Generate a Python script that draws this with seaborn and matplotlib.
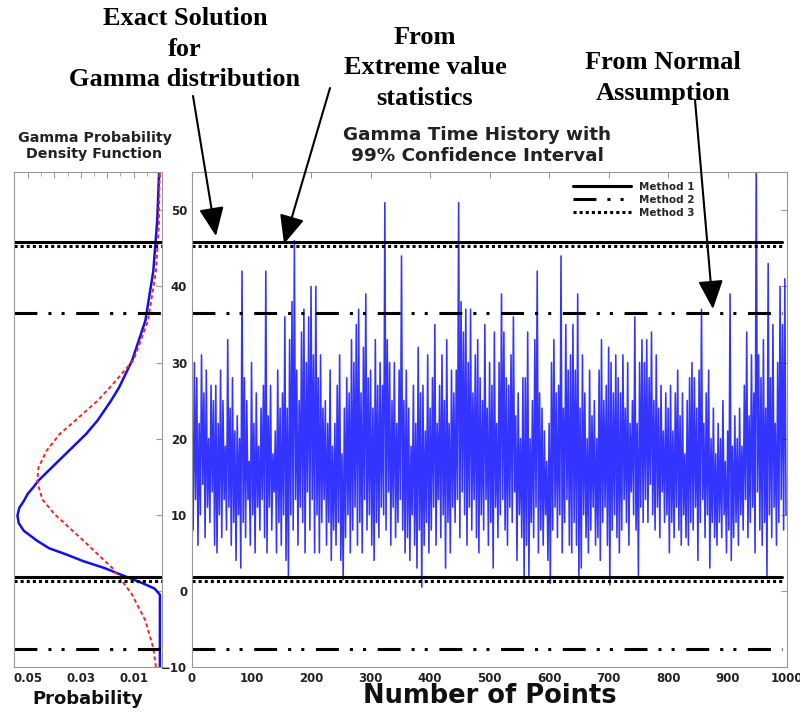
import numpy as np
import pandas as pd
import matplotlib
matplotlib.use('Agg')
import matplotlib.pyplot as plt
import seaborn as sns

# time history: one peak then one trough,
# 2 points apart (peak at n = 4i, trough at n = 4i + 2)
step = 2
peaks = [
    24, 30, 28, 22, 31, 26, 29, 20, 27, 25,
    27, 22, 29, 25, 19, 33, 24, 28, 21, 23,
    20, 42, 28, 25, 17, 30, 22, 26, 19, 24,
    27, 42, 23, 27, 18, 21, 29, 24, 26, 36,
    24, 33, 38, 46, 29, 25, 34, 37, 30, 36,
    40, 31, 40, 28, 31, 24, 25, 22, 29, 19,
    22, 27, 31, 18, 24, 28, 26, 33, 30, 35,
    37, 26, 32, 39, 28, 29, 24, 33, 27, 30,
    27, 51, 33, 30, 25, 30, 22, 29, 44, 25,
    29, 24, 19, 27, 22, 32, 26, 27, 21, 31,
    24, 28, 35, 22, 27, 31, 25, 33, 22, 29,
    26, 29, 51, 38, 34, 37, 30, 37, 26, 31,
    33, 28, 25, 35, 24, 30, 27, 34, 22, 30,
    39, 34, 28, 27, 31, 36, 23, 26, 20, 28,
    28, 34, 20, 25, 33, 42, 26, 24, 21, 17,
    22, 30, 33, 26, 27, 44, 24, 35, 29, 31,
    35, 29, 39, 24, 31, 26, 20, 29, 23, 25,
    20, 29, 33, 25, 27, 32, 30, 26, 31, 28,
    26, 31, 24, 30, 22, 25, 36, 22, 30, 33,
    30, 33, 28, 34, 25, 31, 24, 27, 21, 26,
    24, 27, 21, 26, 29, 23, 26, 18, 25, 28,
    30, 28, 24, 29, 37, 22, 26, 29, 20, 24,
    18, 22, 20, 25, 17, 21, 39, 19, 23, 20,
    24, 19, 27, 34, 23, 31, 26, 58, 31, 28,
    33, 24, 43, 28, 35, 22, 30, 40, 35, 41,
]
troughs = [
    8, 12, 6, 10, 14, 7, 11, 9, 13, 6,
    5, 10, 7, 12, 8, 11, 6, 9, 4, 10,
    3, 9, 7, 12, 6, 10, 5, 11, 8, 12,
    7, 5, 11, 8, 13, 5, 9, 6, 10, 4,
    2, 10, 8, 12, 6, 11, 9, 5, 13, 8,
    12, 5, 10, 5, 9, 12, 6, 9, 4, 8,
    6, 9, 4, 1.5, 7, 10, 5, 8, 11, 6,
    9, 5, 12, 8, 10, 6, 4, 9, 7, 11,
    10, 8, 13, 6, 11, 7, 9, 12, 8, 5,
    7, 4, 10, 6, 3, 8, 0.5, 6, 9, 5,
    8, 11, 6, 12, 7, 10, 3, 9, 5, 11,
    9, 12, 7, 13, 10, 6, 11, 8, 12, 7,
    5, 10, 8, 12, 6, 9, 3, 11, 7, 10,
    12, 8, 6, 11, 9, 13, 4, 10, 7, 1.5,
    6, 2, 9, 7, 11, 5, 8, 6, 10, 4,
    1, 8, 11, 7, 10, 5, 9, 12, 6, 5,
    9, 6, 1.5, 3, 10, 7, 5, 8, 11, 6,
    7, 4, 9, 11, 6, 0.8, 8, 10, 7, 5,
    8, 12, 9, 6, 13, 10, 8, 2, 11, 9,
    12, 9, 14, 10, 8, 11, 7, 13, 9, 10,
    5, 9, 7, 11, 8, 6, 10, 7, 6, 9,
    8, 11, 4, 9, 12, 7, 10, 3, 9, 7,
    6, 9, 7, 10, 5, 8, 4, 7, 9, 6,
    10, 8, 12, 7, 9, 11, 5, 13, 8, 6,
    9, 2, 10, 7, 11, 6, 9, 12, 8, 10,
]

# gamma pdf (blue)
gamma_y = [-10, -0.5, 0.3, 1.0, 1.7, 2.3, 3.0, 3.9, 4.8, 5.6, 6.6, 7.9, 8.9, 9.9,
           10.9, 11.8, 12.8, 13.6, 14.5, 16.2, 18.4, 20.6, 22.4, 25, 26.7, 30.3,
           35.5, 42, 48.7, 55]
gamma_p = [0, 0, 0.002, 0.0065, 0.0116, 0.016, 0.021, 0.029, 0.0356, 0.042, 0.0466,
           0.0516, 0.0535, 0.054, 0.0533, 0.0516, 0.050, 0.048, 0.046, 0.041, 0.0345,
           0.028, 0.0236, 0.0185, 0.0155, 0.0105, 0.0055, 0.0025, 0.001, 0.0003]

# normal pdf (red)
normal_y = [-10, -7.5, -3.9, -0.4, 3.0, 6.6, 10.1, 12, 13.7, 14.5, 16.2, 18.4,
            20.6, 22.4, 25, 26.7, 30.3, 35.5, 42, 48, 55]
normal_p = [0.0015, 0.0025, 0.0055, 0.0107, 0.018, 0.029, 0.040, 0.0445, 0.046,
            0.0465, 0.046, 0.043, 0.038, 0.032, 0.0236, 0.019, 0.010, 0.0045,
            0.0015, 0.0004, 0.0001]

# 99% interval bounds (lower, upper)
methods = ['Method 1', 'Method 2', 'Method 3']
lower = [1.8, -7.6, 1.3]
upper = [45.8, 36.5, 45.3]
styles = ['-', (0, (7.5, 3.6, 1, 3.3, 1, 3.8)), (0, (1, 1))]

sns.set_style('white')
plt.rcParams['font.family'] = ['DejaVu Sans']

fig = plt.figure(figsize=(8, 7.13), dpi=100)
ax_pdf = fig.add_axes([0.0175, 0.0645, 0.185, 0.694])
ax = fig.add_axes([0.24, 0.0645, 0.744, 0.694])

history = [v for pair in zip(peaks, troughs) for v in pair]
ts = pd.DataFrame({'n': np.arange(len(history)) * step, 'v': history})
sns.lineplot(data=ts, x='n', y='v', ax=ax, color='#1010ff', lw=1.15, alpha=0.85)

sns.lineplot(x=gamma_p, y=gamma_y, orient='y', sort=False, ax=ax_pdf,
             color='#1010ee', lw=1.8)
sns.lineplot(x=normal_p, y=normal_y, orient='y', sort=False, ax=ax_pdf,
             color='#ff2020', lw=1.4, linestyle=(0, (2, 1.5)))

for m, lo, hi, ls in zip(methods, lower, upper, styles):
    for a in (ax, ax_pdf):
        xmax = 0.992 if a is ax else 1
        a.axhline(hi, xmax=xmax, color='black', lw=2.2, ls=ls, label=m if a is ax else None)
        a.axhline(lo, xmax=xmax, color='black', lw=2.2, ls=ls)

for a in (ax, ax_pdf):
    a.set_ylim(-10, 55)
    for s in a.spines.values():
        s.set_color('#999999')
    a.tick_params(direction='in', top=True, right=True, length=4, color='#999999',
                  labelsize=8.5, labelcolor='#222222', width=0.8)
    a.set_xlabel('')
    a.set_ylabel('')

ax.set_xlim(0, 1000)
ax.set_xticks(range(0, 1001, 100))
ax.set_yticks(range(-10, 51, 10))
for lab in ax.get_xticklabels() + ax.get_yticklabels():
    lab.set_fontweight('bold')
ax.set_xlabel('Number of Points', fontsize=18.5, fontweight='bold', labelpad=-1,
              color='#111111')
ax.set_title('Gamma Time History with\n99% Confidence Interval', fontsize=13.2,
             fontweight='bold', color='#222222', pad=8, x=0.479)
leg = ax.legend(loc='upper right', bbox_to_anchor=(0.86, 1.0), frameon=False,
                handlelength=5.5, fontsize=7.5, labelspacing=0.3)
for t in leg.get_texts():
    t.set_fontweight('bold')

ax_pdf.set_xlim(0.0553, -0.0008)
ax_pdf.set_xticks([0.05, 0.04, 0.03, 0.02, 0.01, 0.0])
ax_pdf.set_xticklabels(['0.05', '', '0.03', '', '0.01', ''], fontweight='bold')
ax_pdf.set_xticks(np.arange(0, 0.055, 0.005), minor=True)
ax_pdf.tick_params(which='minor', direction='in', top=True, length=3, color='#999999')
ax_pdf.set_yticks(range(-10, 51, 10))
ax_pdf.set_yticklabels([])
ax_pdf.set_xlabel('Probability', fontsize=13, fontweight='bold', labelpad=4,
                  color='#111111')
ax_pdf.set_title('Gamma Probability\nDensity Function', fontsize=10.3,
                 fontweight='bold', color='#222222', pad=10, x=0.544)

serif = dict(family='Liberation Serif', fontweight='bold', fontsize=19,
             ha='center', va='center', linespacing=1.4, color='black')
fig.text(185 / 800, 1 - 49 / 713, 'Exact Solution\nfor\nGamma distribution', **serif)
fig.text(425 / 800, 1 - 68 / 713, 'From\nExtreme value\nstatistics', **serif)
fig.text(663 / 800, 1 - 78 / 713, 'From Normal\nAssumption', **serif)

arrow = dict(arrowstyle='-|>,head_length=0.8,head_width=0.35', color='black',
             lw=1.5, mutation_scale=22, shrinkA=0, shrinkB=0)
ax.annotate('', xy=(216, 713 - 236), xytext=(193, 713 - 96),
            xycoords='figure pixels', textcoords='figure pixels', arrowprops=arrow)
ax.annotate('', xy=(284, 713 - 244), xytext=(330, 713 - 88),
            xycoords='figure pixels', textcoords='figure pixels', arrowprops=arrow)
ax.annotate('', xy=(713, 713 - 309), xytext=(695, 713 - 100),
            xycoords='figure pixels', textcoords='figure pixels', arrowprops=arrow)

fig.savefig('out.png', dpi=100)
